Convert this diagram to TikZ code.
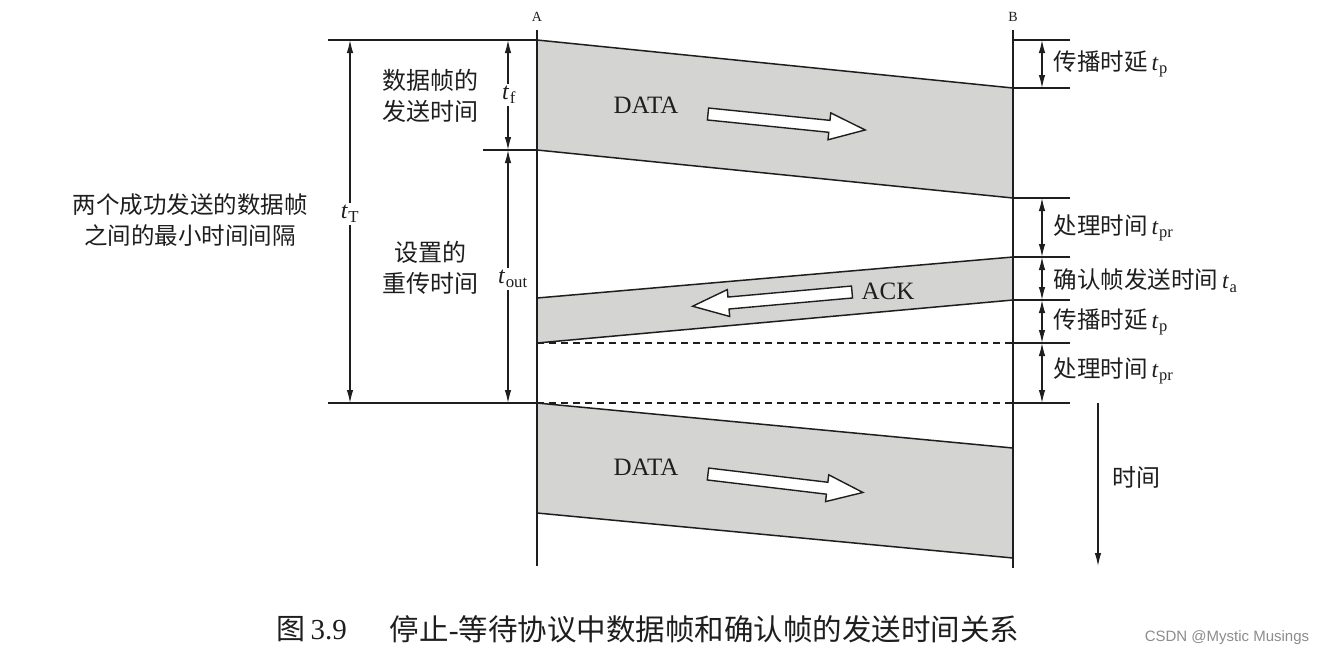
\documentclass[tikz,border=0pt]{standalone}
\usepackage{fontspec}
\setmainfont{Liberation Serif}
\newfontfamily\cjk{Noto Sans CJK SC}
\newfontfamily\wmfont{Liberation Sans}
\usetikzlibrary{arrows.meta}
\definecolor{pkfill}{RGB}{212,212,210}
\definecolor{ink}{RGB}{30,30,30}
\newcommand\tlab[1]{\textit{t}\kern0.5pt\textsubscript{#1}}
\begin{document}
\begin{tikzpicture}[x=1pt,y=-1pt,line width=1.5pt,draw=ink,
  dim/.style={{Latex[length=13pt,width=6.5pt]}-{Latex[length=13pt,width=6.5pt]},line width=1.2pt},
  onedim/.style={-{Latex[length=13pt,width=6.5pt]},line width=1.2pt},
  dashln/.style={dashed,dash pattern=on 7pt off 5pt,line width=1.2pt},
  tick/.style={line width=1.4pt},
  cn/.style={font=\cjk\fontsize{24}{31}\selectfont,align=center,text=ink,inner sep=1pt},
  lab/.style={font=\fontsize{23.5}{26}\selectfont,text=ink,anchor=west,inner sep=0pt},
  small/.style={font=\fontsize{14}{16}\selectfont,text=ink},
  frame/.style={font=\fontsize{25}{28}\selectfont,text=ink},
  tl/.style={font=\fontsize{24}{26}\selectfont,text=ink,fill=white,inner sep=2pt},
  pics/blockarr/.style={code={\draw[fill=white,line width=1.4pt,draw=ink] (0,-6) -- (#1-36,-6) -- (#1-36,-13.5) -- (#1,0) -- (#1-36,13.5) -- (#1-36,6) -- (0,6) -- cycle;}}
]
\useasboundingbox (0,0) rectangle (1339,657);
\fill[white] (0,0) rectangle (1339,657);

% key coordinates
\coordinate (Atop) at (537,30);
\coordinate (Abot) at (537,566);
\coordinate (Btop) at (1013,30);
\coordinate (Bbot) at (1013,568);
% data frame 1
\coordinate (d1a) at (537,40);
\coordinate (d1b) at (1013,88);
\coordinate (d1c) at (1013,198);
\coordinate (d1d) at (537,150);
% ack
\coordinate (ka) at (1013,257);
\coordinate (kb) at (1013,300);
\coordinate (kc) at (537,343);
\coordinate (kd) at (537,298);
% data frame 2
\coordinate (d2a) at (537,403);
\coordinate (d2b) at (1013,448);
\coordinate (d2c) at (1013,558);
\coordinate (d2d) at (537,513);

% shaded bands
\fill[pkfill] (d1a) -- (d1b) -- (d1c) -- (d1d) -- cycle;
\fill[pkfill] (ka) -- (kb) -- (kc) -- (kd) -- cycle;
\fill[pkfill] (d2a) -- (d2b) -- (d2c) -- (d2d) -- cycle;
\draw (d1a) -- (d1b);
\draw (d1d) -- (d1c);
\draw (kd) -- (ka);
\draw (kc) -- (kb);
\draw (d2a) -- (d2b);
\draw (d2d) -- (d2c);

% dashed lines
\coordinate (dsh1) at (1013,343);
\coordinate (dsh2) at (1013,403);
\draw[dashln] (kc) -- (dsh1);
\draw[dashln] (d2a) -- (dsh2);

% station lines
\draw[line width=1.4pt] (Atop) -- (Abot);
\draw[line width=1.4pt] (Btop) -- (Bbot);
\node[small] (Alab) at (537,17) {A};
\node[small] (Blab) at (1013,17) {B};

% left horizontal lines
\coordinate (L1) at (328,40);
\coordinate (L2) at (483,150);
\coordinate (L3) at (328,403);
\draw[tick] (L1) -- (d1a);
\draw[tick] (L2) -- (d1d);
\draw[tick] (L3) -- (d2a);

% left dimension arrows
\coordinate (tTa) at (350,40);
\coordinate (tTb) at (350,403);
\draw[dim] (tTa) -- (tTb);
\node[tl] (tT) at (350,214) {\tlab{T}};
\coordinate (tfa) at (508,40);
\coordinate (tfb) at (508,150);
\draw[dim] (tfa) -- (tfb);
\node[tl] (tf) at (509,95) {\tlab{f}};
\coordinate (toa) at (508,150);
\coordinate (tob) at (508,403);
\draw[dim] (toa) -- (tob);
\node[tl] (tout) at (513,279) {\tlab{out}};

% left texts
\node[cn] (sendtime) at (430,96) {数据帧的\\发送时间};
\node[cn] (retx) at (430,268) {设置的\\重传时间};
\node[cn,font=\cjk\fontsize{23.5}{31}\selectfont] (mingap) at (190,220) {两个成功发送的数据帧\\之间的最小时间间隔};

% right tick lines
\foreach \n/\y in {r1/40,r2/88,r3/198,r4/257,r5/300,r6/343,r7/403}{
  \coordinate (\n a) at (1013,\y);
  \coordinate (\n b) at (1070,\y);
  \coordinate (\n m) at (1042,\y);
  \draw[tick] (\n a) -- (\n b);
}
\draw[dim] (r1m) -- (r2m);
\draw[dim] (r3m) -- (r4m);
\draw[dim] (r4m) -- (r5m);
\draw[dim] (r5m) -- (r6m);
\draw[dim] (r6m) -- (r7m);

\node[lab] (tp1) at (1053,64) {{\cjk 传播时延}\,\tlab{p}};
\node[lab] (tpr1) at (1053,228) {{\cjk 处理时间}\,\tlab{pr}};
\node[lab] (ta) at (1053,281) {{\cjk 确认帧发送时间}\,\tlab{a}};
\node[lab] (tp2) at (1053,322) {{\cjk 传播时延}\,\tlab{p}};
\node[lab] (tpr2) at (1053,371) {{\cjk 处理时间}\,\tlab{pr}};

% time axis
\coordinate (ta1) at (1098,403);
\coordinate (ta2) at (1098,566);
\draw[onedim] (ta1) -- (ta2);
\node[cn] (timelab) at (1136,477) {时间};

% frame labels and block arrows
\node[frame] (data1) at (646,105) {DATA};
\pic[rotate=-5.8] at (708,114) {blockarr=158};
\node[frame] (ack) at (888,291) {ACK};
\pic[rotate=185.1] at (852,292) {blockarr=160};
\node[frame] (data2) at (646,467) {DATA};
\pic[rotate=-6.8] at (708,474) {blockarr=156};

% caption
\node[font=\cjk\fontsize{29}{32}\selectfont,text=ink,anchor=west,inner sep=0pt] (cap1) at (276,629) {图\,{\fontspec{Liberation Serif}3.9}};
\node[font=\cjk\fontsize{29.5}{32}\selectfont,text=ink,anchor=west,inner sep=0pt] (cap2) at (389,629) {停止{\fontspec{Liberation Serif}-}等待协议中数据帧和确认帧的发送时间关系};
\node[font=\wmfont\fontsize{15}{17}\selectfont,text=black!45,anchor=west,inner sep=0pt] (wm) at (1144,638) {CSDN @Mystic Musings};
\end{tikzpicture}
\end{document}
